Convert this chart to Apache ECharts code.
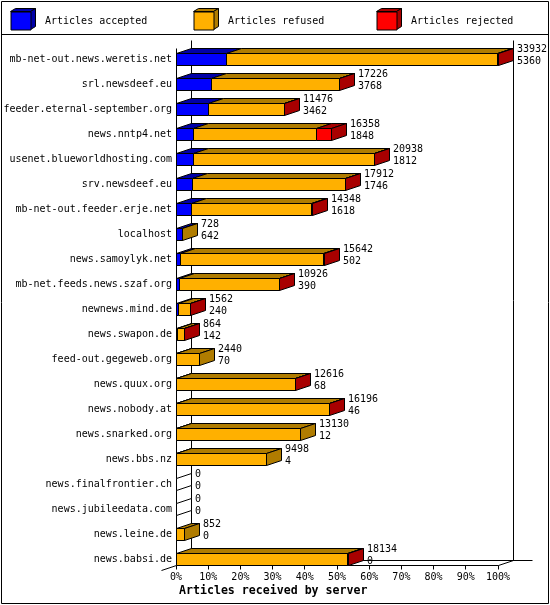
<!DOCTYPE html>
<html>
<head>
<meta charset="utf-8">
<script src="https://cdn.jsdelivr.net/npm/echarts@6/dist/echarts.min.js"></script>
<style>
html,body{margin:0;padding:0;background:#fff;}
#chart{width:550px;height:605px;}
</style>
</head>
<body>
<div id="chart"></div>
<script>
const categories = [
  'mb-net-out.news.weretis.net','srl.newsdeef.eu','feeder.eternal-september.org','news.nntp4.net',
  'usenet.blueworldhosting.com','srv.newsdeef.eu','mb-net-out.feeder.erje.net','localhost',
  'news.samoylyk.net','mb-net.feeds.news.szaf.org','newnews.mind.de','news.swapon.de',
  'feed-out.gegeweb.org','news.quux.org','news.nobody.at','news.snarked.org','news.bbs.nz',
  'news.finalfrontier.ch','news.jubileedata.com','news.leine.de','news.babsi.de'
];
const totals   = [33932,17226,11476,16358,20938,17912,14348,728,15642,10926,1562,864,2440,12616,16196,13130,9498,0,0,852,18134];
const accepted = [5360,3768,3462,1848,1812,1746,1618,642,502,390,240,142,70,68,46,12,4,0,0,0,0];
const refused  = [28472,13418,7984,13000,19066,16116,12690,86,15090,10506,1302,702,2370,12518,16110,13118,9494,0,0,852,18094];
const rejected = [100,40,30,1510,60,50,40,0,50,30,20,20,0,30,40,0,0,0,0,0,40];
const xTickLabels = ['0%','10%','20%','30%','40%','50%','60%','70%','80%','90%','100%'];

const seriesNames = ['Articles accepted','Articles refused','Articles rejected'];
const frontColors = ['#0000FF','#FFB000','#FF0000'];
const darkColors  = ['#0000A8','#B07C00','#A80000'];
const parts = [accepted, refused, rejected];
const maxTotal = Math.max.apply(null, totals);
const FONT = '10px "DejaVu Sans Mono"';
const DX = 15, DY = 5;
function crisp(v){ return Math.floor(v) + 0.5; }

function segData(k){
  return categories.map(function(_, i){
    let s = 0;
    for (let j = 0; j < k; j++) s += parts[j][i];
    const e = s + parts[k][i];
    let last = parts[k][i] > 0 ? 1 : 0;
    for (let j = k + 1; j < parts.length; j++) if (parts[j][i] > 0) last = 0;
    return [s / maxTotal * 100, e / maxTotal * 100, i, last, parts[k][i]];
  });
}

function makeSeg(k){
  return {
    type: 'custom', name: seriesNames[k], z: 3, clip: false, silent: true,
    itemStyle: { color: frontColors[k] },
    encode: { x: [0, 1], y: 2 },
    data: segData(k),
    renderItem: function(params, api){
      const s = api.value(0), e = api.value(1), i = api.value(2), last = api.value(3), raw = api.value(4);
      if (!(raw > 0)) return null;
      const p0 = api.coord([s, i]), p1 = api.coord([e, i]);
      const band = api.size([0, 1])[1];
      const h = band * 0.24;
      const c = p0[1];
      const xs = crisp(p0[0]), xe = crisp(p1[0]);
      const yT = crisp(c - h), yB = crisp(c + h);
      const st = { stroke: '#000', lineWidth: 1 };
      const ch = [
        { type: 'polygon', shape: { points: [[xs, yT], [xe, yT], [xe + DX, yT - DY], [xs + DX, yT - DY]] },
          style: Object.assign({ fill: darkColors[k] }, st) },
        { type: 'rect', shape: { x: xs, y: yT, width: xe - xs, height: yB - yT },
          style: Object.assign({ fill: frontColors[k] }, st) }
      ];
      if (last) {
        ch.push({ type: 'polygon', shape: { points: [[xe, yT], [xe + DX, yT - DY], [xe + DX, yB - DY], [xe, yB]] },
          style: Object.assign({ fill: darkColors[k] }, st) });
      }
      return { type: 'group', children: ch };
    }
  };
}

const frameSeries = {
  type: 'custom', name: 'frame', z: 1, clip: false, silent: true,
  data: [[0, 0]],
  renderItem: function(params, api){
    const n = categories.length;
    const pL = api.coord([0, 0]), pR = api.coord([100, n - 1]);
    const band = api.size([0, 1])[1];
    const h = band * 0.24;
    const x0 = crisp(pL[0]), x1 = crisp(pR[0]);
    const yFront = crisp(pR[1] + h);
    const yBack = yFront - DY;
    const yTop = crisp(pL[1] - h - DY - 8);
    const ln = function(a, b, c, d){ return { type: 'line', shape: { x1: a, y1: b, x2: c, y2: d }, style: { stroke: '#000', lineWidth: 1 } }; };
    const ch = [
      ln(x0 + DX, yTop, x0 + DX, yBack),
      ln(x1 + DX, yTop, x1 + DX, yBack),
      ln(x0 + DX, yBack, x1 + DX + 19, yBack),
      ln(x0, yTop + 8, x0, yFront),
      ln(x0, yFront, x1, yFront),
      ln(x1, yFront, x1 + DX, yBack),
      ln(x0 - DX, yFront + DY, x0, yFront)
    ];
    for (let t = 0; t < xTickLabels.length; t++) {
      const xv = crisp(api.coord([t * 10, n - 1])[0]);
      ch.push(ln(xv, yFront, xv, yFront + 4));
    }
    return { type: 'group', children: ch };
  }
};

const labelSeries = {
  type: 'custom', name: 'labels', z: 4, clip: false, silent: true,
  data: categories.map(function(_, i){ return [totals[i] / maxTotal * 100, i, totals[i], accepted[i]]; }),
  encode: { x: 0, y: 1 },
  renderItem: function(params, api){
    const v = api.value(0), i = api.value(1);
    const p = api.coord([v, i]);
    const band = api.size([0, 1])[1];
    const h = band * 0.24;
    const c = p[1];
    const xe = crisp(p[0]);
    const ch = [];
    if (!(api.value(2) > 0)) {
      const yT = crisp(c - h), yB = crisp(c + h);
      ch.push({ type: 'polygon', shape: { points: [[xe, yT], [xe + DX, yT - DY], [xe + DX, yB - DY], [xe, yB]] },
        style: { fill: '#fff', stroke: '#000', lineWidth: 1 } });
    }
    ch.push({ type: 'text', style: { text: String(totals[i]), x: xe + DX + 3.5, y: c - 10, fill: '#000', font: FONT, align: 'left', verticalAlign: 'middle' } });
    ch.push({ type: 'text', style: { text: String(accepted[i]), x: xe + DX + 3.5, y: c + 2, fill: '#000', font: FONT, align: 'left', verticalAlign: 'middle' } });
    return { type: 'group', children: ch };
  }
};

const legendX = [10, 193, 376];
const legends = seriesNames.map(function(nm, k){
  return {
    data: [nm], left: legendX[k] + 0.5, top: 11.5, padding: 0, orient: 'horizontal',
    icon: 'rect', itemWidth: 20, itemHeight: 18, selectedMode: false,
    itemStyle: { borderColor: '#000', borderWidth: 1 },
    textStyle: { fontFamily: 'DejaVu Sans Mono', fontSize: 10, color: '#000', padding: [0, 0, 0, 9] }
  };
});

const graphics = [
  { type: 'rect', shape: { x: 1.5, y: 1.5, width: 547, height: 602 }, style: { fill: null, stroke: '#000', lineWidth: 1 }, silent: true },
  { type: 'line', shape: { x1: 1.5, y1: 34.5, x2: 548.5, y2: 34.5 }, style: { stroke: '#000', lineWidth: 1 }, silent: true }
];
legendX.forEach(function(x, k){
  const L = x + 0.5, T = 11.5, R = L + 20, B = T + 18;
  graphics.push({ type: 'polygon', shape: { points: [[L, T], [R, T], [R + 5, T - 3], [L + 5, T - 3]] },
    style: { fill: darkColors[k], stroke: '#000', lineWidth: 1 }, silent: true });
  graphics.push({ type: 'polygon', shape: { points: [[R, T], [R + 5, T - 3], [R + 5, B - 3], [R, B]] },
    style: { fill: darkColors[k], stroke: '#000', lineWidth: 1 }, silent: true });
});

const chart = echarts.init(document.getElementById('chart'), null, { renderer: 'canvas' });
chart.setOption({
  backgroundColor: '#fff',
  animation: false,
  title: {
    text: 'Articles received by server', left: 179, top: 585, padding: 0,
    textStyle: { fontFamily: 'DejaVu Sans Mono', fontSize: 11.6, fontWeight: 'bold', color: '#000' }
  },
  legend: legends,
  grid: { left: 176, right: 52, top: 46.5, bottom: 33.5, containLabel: false },
  xAxis: {
    type: 'value', min: 0, max: 100, interval: 10,
    axisLine: { show: false }, axisTick: { show: false }, splitLine: { show: false },
    axisLabel: { margin: 1, color: '#000', fontFamily: 'DejaVu Sans Mono', fontSize: 10,
      formatter: function(v){ return xTickLabels[Math.round(v / 10)]; } }
  },
  yAxis: {
    type: 'category', data: categories, inverse: true,
    axisLine: { show: false }, axisTick: { show: false }, splitLine: { show: false },
    axisLabel: { margin: 4, color: '#000', fontFamily: 'DejaVu Sans Mono', fontSize: 10 }
  },
  graphic: graphics,
  series: [frameSeries, makeSeg(0), makeSeg(1), makeSeg(2), labelSeries]
});
</script>
</body>
</html>
